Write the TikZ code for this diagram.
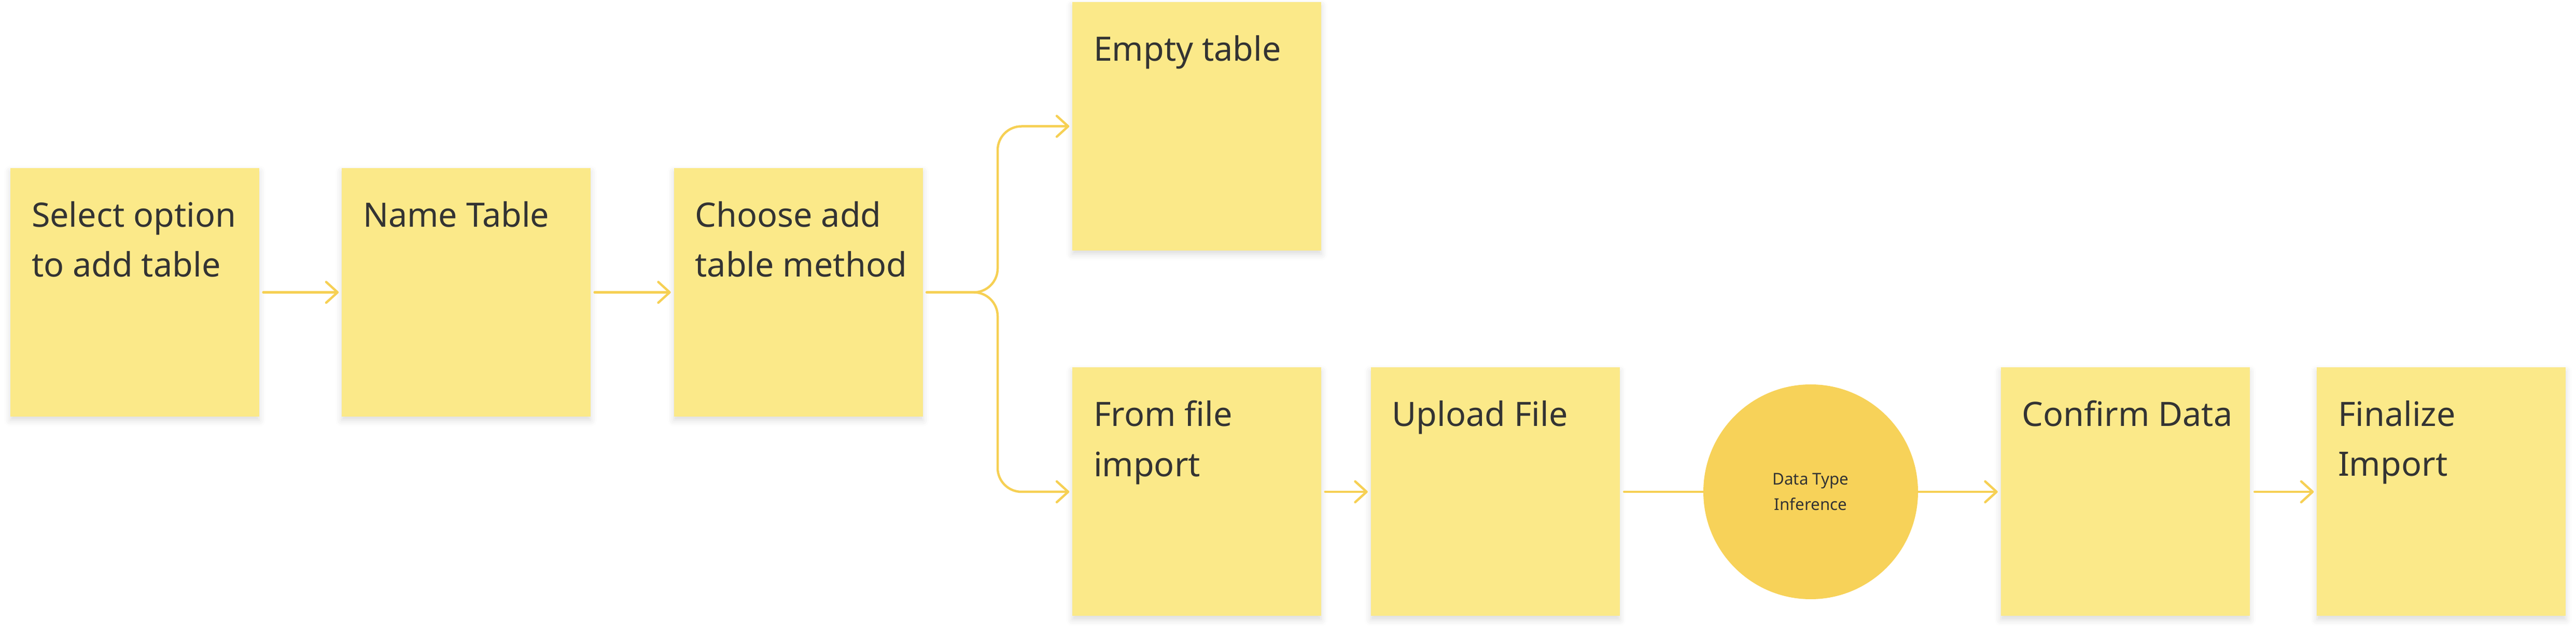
\documentclass[tikz,border=0pt]{standalone}
\usepackage{fontspec}
\setmainfont{Noto Sans}
\usepackage{tikz}
\usepackage{color}
\usetikzlibrary{positioning, calc, arrows.meta, shadows.blur}

\definecolor{notefill}{RGB}{251,233,137}
\definecolor{dotfill}{RGB}{247,210,89}
\definecolor{flowline}{RGB}{246,208,84}
\definecolor{inkgray}{RGB}{51,51,51}

\tikzset{
    sticky/.style={rectangle, fill=notefill, minimum width=4.8cm, minimum height=4.79cm, inner sep=0pt,
        blur shadow={shadow xshift=0cm, shadow yshift=-0.07cm, shadow blur radius=0.12cm, shadow opacity=14}},
    notetext/.style={font=\fontsize{18.4}{27.4}\selectfont, text=inkgray, align=left, inner sep=0pt},
    dottext/.style={font=\fontsize{8.9}{13.7}\selectfont, text=inkgray, align=center},
    flowline/.style={draw=flowline, line width=0.045cm, line cap=round},
    flow/.style={flowline, ->, shorten <=0.07cm, shorten >=0.05cm}
}

\begin{document}
\begin{tikzpicture}[>={Straight Barb[length=0.22cm, width=0.40cm, round]}]
                \useasboundingbox (0,0) rectangle (49.68,12.24);

                \node[sticky] (select) at (2.60,6.605) {};
                \node[sticky] (name) at (8.99,6.605) {};
                \node[sticky] (choose) at (15.395,6.605) {};
                \node[sticky] (empty) at (23.08,9.805) {};
                \node[sticky] (fromfile) at (23.08,2.76) {};
                \node[sticky] (upload) at (28.835,2.76) {};
                \node[circle, fill=dotfill, minimum size=4.14cm, inner sep=0pt] (infer) at (34.92,2.76) {};
                \node[sticky] (confirm) at (40.985,2.76) {};
                \node[sticky] (finalize) at (47.08,2.76) {};

                \node[notetext, below right=0.64cm and 0.41cm of select.north west] (selecttext) {Select option\\to add table};
                \node[notetext, below right=0.64cm and 0.41cm of name.north west] (nametext) {Name Table};
                \node[notetext, below right=0.64cm and 0.41cm of choose.north west] (choosetext) {Choose add\\table method};
                \node[notetext, below right=0.64cm and 0.41cm of empty.north west] (emptytext) {Empty table};
                \node[notetext, below right=0.64cm and 0.41cm of fromfile.north west] (fromfiletext) {From file\\import};
                \node[notetext, below right=0.64cm and 0.41cm of upload.north west] (uploadtext) {Upload File};
                \node[notetext, below right=0.64cm and 0.41cm of confirm.north west] (confirmtext) {Confirm Data};
                \node[notetext, below right=0.64cm and 0.41cm of finalize.north west] (finalizetext) {Finalize\\Import};
                \node[dottext] (infertext) at (infer) {Data Type\\Inference};

                \coordinate (fork) at (19.24,6.605);

                \draw[flow] (select) -- (name);
                \draw[flow] (name) -- (choose);
                \draw[flow, rounded corners=0.46cm] (choose.east) -- (fork) |- (empty.west);
                \draw[flow, rounded corners=0.46cm] (choose.east) -- (fork) |- (fromfile.west);
                \draw[flow] (fromfile) -- (upload);
                \draw[flowline, shorten <=0.08cm] (upload) -- (infer);
                \draw[flow, shorten <=0cm] (infer) -- (confirm);
                \draw[flow, shorten <=0.09cm] (confirm) -- (finalize);
\end{tikzpicture}
\end{document}
